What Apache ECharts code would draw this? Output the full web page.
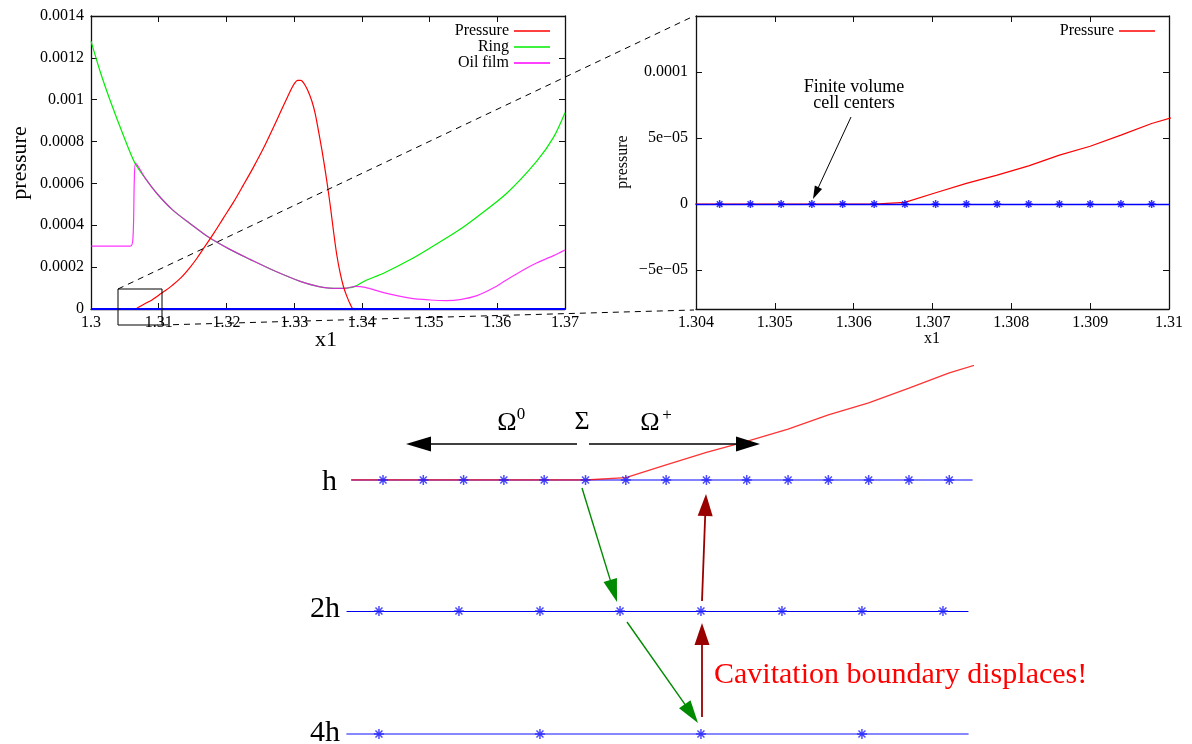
<!DOCTYPE html>
<html>
<head>
<meta charset="utf-8">
<script src="https://cdn.jsdelivr.net/npm/echarts@6/dist/echarts.min.js"></script>
<style>html,body{margin:0;padding:0;background:#fff}#c{width:1192px;height:744px}</style>
</head>
<body>
<div id="c"></div>
<script>
// ---------------- data ----------------
// Left chart: full domain
const pressX = [1.3, 1.3065, 1.307, 1.308, 1.309, 1.31, 1.311, 1.312, 1.3133, 1.3146, 1.3157, 1.3168, 1.3182, 1.3195, 1.321, 1.3225, 1.324, 1.3255, 1.327, 1.328, 1.3289, 1.3296, 1.3301, 1.3305, 1.331, 1.3315, 1.332, 1.3326, 1.3331, 1.3336, 1.3341, 1.3345, 1.3349, 1.3354, 1.3358, 1.3363, 1.3368, 1.3373, 1.3378, 1.3383, 1.3388, 1.37];
const pressY = [0, 0, 0.0000083, 0.000026, 0.000043, 0.000066, 0.000088, 0.000113, 0.00015, 0.000198, 0.000245, 0.000298, 0.000365, 0.000432, 0.000508, 0.000592, 0.000678, 0.00077, 0.000872, 0.000942, 0.001005, 0.001052, 0.00108, 0.001092, 0.001092, 0.001075, 0.001045, 0.000995, 0.000935, 0.00085, 0.00076, 0.00068, 0.000595, 0.000478, 0.000375, 0.000258, 0.000171, 0.000105, 0.000059, 0.000022, 0, 0];

const ringX = [1.3, 1.3014, 1.3028, 1.3048, 1.3065, 1.308, 1.3097, 1.312, 1.3146, 1.3175, 1.3205, 1.3235, 1.3269, 1.3309, 1.3335, 1.3352, 1.3366, 1.3378, 1.339, 1.3405, 1.3432, 1.3471, 1.3505, 1.354, 1.357, 1.3614, 1.3658, 1.3683, 1.37];
const ringY = [0.00128, 0.00113, 0.000999, 0.000828, 0.000696, 0.000625, 0.000553, 0.000475, 0.000409, 0.00034, 0.000285, 0.000237, 0.000185, 0.000132, 0.000108, 0.0001, 0.0000985, 0.0001, 0.000108, 0.000135, 0.000171, 0.000235, 0.0003, 0.00037, 0.00044, 0.000553, 0.000705, 0.00082, 0.000938];

const oilX = [1.3, 1.3058, 1.3062, 1.3064, 1.3066, 1.308, 1.3097, 1.312, 1.3146, 1.3175, 1.3205, 1.3235, 1.3269, 1.3309, 1.3335, 1.3352, 1.3366, 1.3378, 1.339, 1.3405, 1.3432, 1.3471, 1.3501, 1.3525, 1.3545, 1.357, 1.3594, 1.3614, 1.3643, 1.3658, 1.3683, 1.37];
const oilY = [0.0003, 0.0003, 0.00034, 0.00062, 0.000696, 0.000625, 0.000553, 0.000475, 0.000409, 0.00034, 0.000285, 0.000237, 0.000185, 0.000132, 0.000108, 0.0001, 0.0000985, 0.0001, 0.000108, 0.000103, 0.000078, 0.000052, 0.000043, 0.00004, 0.000045, 0.000064, 0.0001, 0.00014, 0.000195, 0.00022, 0.000255, 0.000282];

// Zoomed region: finite volume cell centres and pressure
const cellX = [1.30430, 1.30469, 1.30508, 1.30547, 1.30586, 1.30626, 1.30665, 1.30704, 1.30743, 1.30782, 1.30822, 1.30861, 1.30900, 1.30939, 1.30978];
const zoomX = [1.30391, 1.30430, 1.30469, 1.30508, 1.30547, 1.30586, 1.30626, 1.30665, 1.30704, 1.30743, 1.30782, 1.30822, 1.30861, 1.30900, 1.30939, 1.30978, 1.31017];
const zoomP = [0, 0, 0, 0, 0, 0, 0, 0.0000013, 0.0000086, 0.0000157, 0.000022, 0.000029, 0.0000371, 0.0000439, 0.0000523, 0.0000611, 0.000068];

// Coarse grids of the diagram
const row2hX = [1.304261, 1.305035, 1.305819, 1.306594, 1.307377, 1.308161, 1.308935, 1.309719];
const row4hX = [1.304261, 1.305819, 1.307377, 1.308935];

// tick labels of the zoomed chart's y axis
const zoomYTicks = [-0.00005, 0, 0.00005, 0.0001];
const zoomYLabels = ['\u22125e\u221205', '0', '5e\u221205', '0.0001'];

// ---------------- helpers ----------------
const FONT = '"Liberation Serif", "DejaVu Serif", serif';
const zip = (xs, ys) => xs.map((x, i) => [x, ys[i]]);
const zeros = xs => xs.map(x => [x, 0]);
const STAR = 'path://M0,5L10,5M5,0L5,10M1.5,1.5L8.5,8.5M8.5,1.5L1.5,8.5';

// diagram: shared horizontal mapping (pixel 352 -> 1.304, pixel 972 -> 1.31)
const DX0 = 352, DX1 = 972, DV0 = 1.304, DV1 = 1.31;
const pxToX = px => DV0 + (px - DX0) * (DV1 - DV0) / (DX1 - DX0);

const frame = { show: true, onZero: false, lineStyle: { color: '#111', width: 1.3 } };
const tick = { show: true, inside: true, length: 6, lineStyle: { color: '#111', width: 1 } };
const lab = (fmt, margin) => ({ show: true, color: '#000', fontFamily: FONT, fontSize: 16, margin: margin, formatter: fmt });
const noLab = { show: false };
const noSplit = { show: false };

function vAxis(o) {
  return Object.assign({ type: 'value', axisLine: frame, axisTick: tick, splitLine: noSplit, axisLabel: noLab }, o);
}
function hiddenAxis(o) {
  return Object.assign({ type: 'value', axisLine: { show: false }, axisTick: { show: false }, splitLine: noSplit, axisLabel: noLab }, o);
}

function text(x, y, str, size, o) {
  o = o || {};
  return {
    type: 'text', x: x, y: y, rotation: o.rotation || 0, z: 100,
    style: { text: str, fontSize: size, fontFamily: FONT, fill: o.fill || '#000',
             align: o.align || 'center', verticalAlign: o.va || 'middle', lineHeight: o.lh }
  };
}
function arrow(x1, y1, x2, y2, color, w, hl, hw) {
  const a = Math.atan2(y2 - y1, x2 - x1);
  const bx = x2 - hl * Math.cos(a), by = y2 - hl * Math.sin(a);
  const nx = -Math.sin(a), ny = Math.cos(a);
  return [
    { type: 'line', z: 100, shape: { x1: x1, y1: y1, x2: bx + (x2 - bx) * 0.2, y2: by + (y2 - by) * 0.2 }, style: { stroke: color, lineWidth: w } },
    { type: 'polygon', z: 100, shape: { points: [[x2, y2], [bx + nx * hw, by + ny * hw], [bx - nx * hw, by - ny * hw]] }, style: { fill: color } }
  ];
}

const chart = echarts.init(document.getElementById('c'), null, { renderer: 'canvas' });

const graphics = [].concat(
  [
    // zoom box and connectors
    { type: 'rect', z: 90, shape: { x: 118, y: 289, width: 44, height: 36 }, style: { fill: 'none', stroke: '#000', lineWidth: 1 } },
    { type: 'line', z: 90, shape: { x1: 118, y1: 289, x2: 694, y2: 16 }, style: { stroke: '#000', lineWidth: 1, lineDash: [6, 5] } },
    { type: 'line', z: 90, shape: { x1: 162, y1: 325, x2: 694, y2: 310 }, style: { stroke: '#000', lineWidth: 1, lineDash: [6, 5] } },
    // axis titles
    text(20, 163, 'pressure', 22, { rotation: Math.PI / 2 }),
    text(326, 340, 'x1', 22),
    text(623, 162, 'pressure', 16, { rotation: Math.PI / 2 }),
    text(932, 339, 'x1', 16),
    // annotation
    text(854, 95, 'Finite volume\ncell centers', 18, { lh: 16 }),
    // diagram labels
    text(337, 482, 'h', 30, { align: 'right' }),
    text(340, 609, '2h', 30, { align: 'right' }),
    text(340, 733, '4h', 30, { align: 'right' }),
    text(507, 423, '\u03A9', 26),
    text(521, 415, '0', 17),
    text(582, 422, '\u03A3', 26),
    text(650, 423, '\u03A9', 26),
    text(667, 416, '+', 17),
    text(714, 675, 'Cavitation boundary displaces!', 30, { align: 'left', fill: '#ff0000' })
  ],
  arrow(851, 117, 813, 199, '#000', 1, 13, 4),
  arrow(577, 444, 406, 444, '#000', 1.6, 25, 7.5),
  arrow(589, 444, 760, 444, '#000', 1.6, 24, 7.5),
  arrow(582, 488, 617, 602, '#008a00', 1.4, 23, 7),
  arrow(627, 622, 698, 723, '#008a00', 1.4, 23, 7),
  arrow(702, 717, 702, 623, '#990000', 1.8, 22, 7.5),
  arrow(702, 601, 706, 494, '#990000', 1.8, 22, 7.5)
);

const option = {
  animation: false,
  backgroundColor: '#fff',
  textStyle: { fontFamily: FONT },
  grid: [
    { left: 91, top: 16, width: 474, height: 293, outerBoundsMode: 'none', containLabel: false },
    { left: 696, top: 16, width: 473, height: 293, outerBoundsMode: 'none', containLabel: false },
    { left: DX0, top: 350, width: DX1 - DX0, height: 130, outerBoundsMode: 'none', containLabel: false },
    { left: 347, top: 601, width: 621, height: 10, outerBoundsMode: 'none', containLabel: false },
    { left: 347, top: 724, width: 621, height: 10, outerBoundsMode: 'none', containLabel: false }
  ],
  legend: [
    { data: ['Pressure', 'Ring', 'Oil film'], orient: 'vertical', align: 'right', right: 642, top: 23, padding: 0, itemGap: 0,
      itemWidth: 36, itemHeight: 1.6, icon: 'rect', selectedMode: false,
      textStyle: { fontFamily: FONT, fontSize: 16, lineHeight: 12, color: '#000' } },
    { data: ['Pressure'], orient: 'vertical', align: 'right', right: 37, top: 23, padding: 0, itemGap: 0,
      itemWidth: 36, itemHeight: 1.6, icon: 'rect', selectedMode: false,
      textStyle: { fontFamily: FONT, fontSize: 16, lineHeight: 12, color: '#000' } }
  ],
  xAxis: [
    vAxis({ gridIndex: 0, position: 'bottom', min: 1.3, max: 1.37, interval: 0.01, axisLabel: lab(v => String(+v.toFixed(2)), 6) }),
    vAxis({ gridIndex: 0, position: 'top', min: 1.3, max: 1.37, interval: 0.01 }),
    vAxis({ gridIndex: 1, position: 'bottom', min: 1.304, max: 1.31, interval: 0.001, axisLabel: lab(v => String(+v.toFixed(3)), 6) }),
    vAxis({ gridIndex: 1, position: 'top', min: 1.304, max: 1.31, interval: 0.001 }),
    hiddenAxis({ gridIndex: 2, min: DV0, max: DV1, axisLine: { show: true, onZero: false, lineStyle: { color: '#5a5aff', width: 1.6 } } }),
    hiddenAxis({ gridIndex: 3, min: pxToX(347), max: pxToX(968), axisLine: { show: true, onZero: false, lineStyle: { color: '#0000ee', width: 1.2 } } }),
    hiddenAxis({ gridIndex: 4, min: pxToX(347), max: pxToX(968), axisLine: { show: true, onZero: false, lineStyle: { color: '#6060ff', width: 1.6 } } })
  ],
  yAxis: [
    vAxis({ gridIndex: 0, position: 'left', min: 0, max: 0.0014, interval: 0.0002, axisLabel: lab(v => String(+v.toFixed(4)), 7) }),
    vAxis({ gridIndex: 0, position: 'right', min: 0, max: 0.0014, interval: 0.0002 }),
    vAxis({ gridIndex: 1, position: 'left', min: -0.0000795, max: 0.0001426,
      axisTick: Object.assign({}, tick, { customValues: zoomYTicks }),
      axisLabel: Object.assign(lab(v => { const i = zoomYTicks.findIndex(t => Math.abs(t - v) < 1e-9); return i >= 0 ? zoomYLabels[i] : ''; }, 8), { customValues: zoomYTicks }) }),
    vAxis({ gridIndex: 1, position: 'right', min: -0.0000795, max: 0.0001426,
      axisTick: Object.assign({}, tick, { customValues: zoomYTicks }) }),
    hiddenAxis({ gridIndex: 2, min: 0, max: 0.00007408 }),
    hiddenAxis({ gridIndex: 3, min: 0, max: 1 }),
    hiddenAxis({ gridIndex: 4, min: 0, max: 1 })
  ],
  series: [
    { name: 'Ring', type: 'line', xAxisIndex: 0, yAxisIndex: 0, data: zip(ringX, ringY), symbol: 'none', smooth: 0.3,
      lineStyle: { color: '#00ee00', width: 1.2 }, itemStyle: { color: '#00ee00' }, z: 2 },
    { name: 'Oil film', type: 'line', xAxisIndex: 0, yAxisIndex: 0, data: zip(oilX, oilY), symbol: 'none', smooth: 0.3,
      lineStyle: { color: '#ff00ff', width: 1.2, opacity: 0.8 }, itemStyle: { color: '#ff00ff' }, z: 3 },
    { name: 'Pressure', type: 'line', xAxisIndex: 0, yAxisIndex: 0, data: zip(pressX, pressY), symbol: 'none', smooth: 0.3,
      lineStyle: { color: '#ff0000', width: 1.2 }, itemStyle: { color: '#ff0000' }, z: 4 },
    { name: 'cells', type: 'line', xAxisIndex: 0, yAxisIndex: 0, data: zeros(cellX), symbol: 'none',
      lineStyle: { color: '#0000ff', width: 2 }, z: 5,
      markLine: { silent: true, symbol: 'none', label: { show: false }, data: [{ yAxis: 0 }],
        lineStyle: { color: '#0000ff', width: 2, type: 'solid' } } },

    { name: 'Pressure', type: 'line', xAxisIndex: 2, yAxisIndex: 2, data: zip(zoomX, zoomP), symbol: 'none',
      lineStyle: { color: '#ff0000', width: 1.2 }, itemStyle: { color: '#ff0000' }, z: 3 },
    { name: 'cells', type: 'scatter', xAxisIndex: 2, yAxisIndex: 2, data: zeros(cellX), symbol: STAR, symbolSize: 8, clip: false,
      itemStyle: { color: '#0000ff', borderColor: '#0000ff', borderWidth: 1.5 }, z: 6,
      markLine: { silent: true, symbol: 'none', label: { show: false }, data: [{ yAxis: 0 }],
        lineStyle: { color: '#0000ff', width: 1.4, type: 'solid' } } },

    { name: 'diagram pressure', type: 'line', xAxisIndex: 4, yAxisIndex: 4, data: zip(zoomX, zoomP), symbol: 'none',
      lineStyle: { color: '#ff0000', width: 1.3, opacity: 0.8 }, z: 3 },
    { name: 'h cells', type: 'scatter', xAxisIndex: 4, yAxisIndex: 4, data: zeros(cellX), symbol: STAR, symbolSize: 10, clip: false,
      itemStyle: { color: '#1f1fff', borderColor: '#1f1fff', borderWidth: 1.5 }, z: 6 },
    { name: '2h cells', type: 'scatter', xAxisIndex: 5, yAxisIndex: 5, data: zeros(row2hX), symbol: STAR, symbolSize: 10, clip: false,
      itemStyle: { color: '#1f1fff', borderColor: '#1f1fff', borderWidth: 1.5 }, z: 6 },
    { name: '4h cells', type: 'scatter', xAxisIndex: 6, yAxisIndex: 6, data: zeros(row4hX), symbol: STAR, symbolSize: 10, clip: false,
      itemStyle: { color: '#1f1fff', borderColor: '#1f1fff', borderWidth: 1.5 }, z: 6 }
  ],
  graphic: { elements: graphics }
};
chart.setOption(option);
</script>
</body>
</html>
